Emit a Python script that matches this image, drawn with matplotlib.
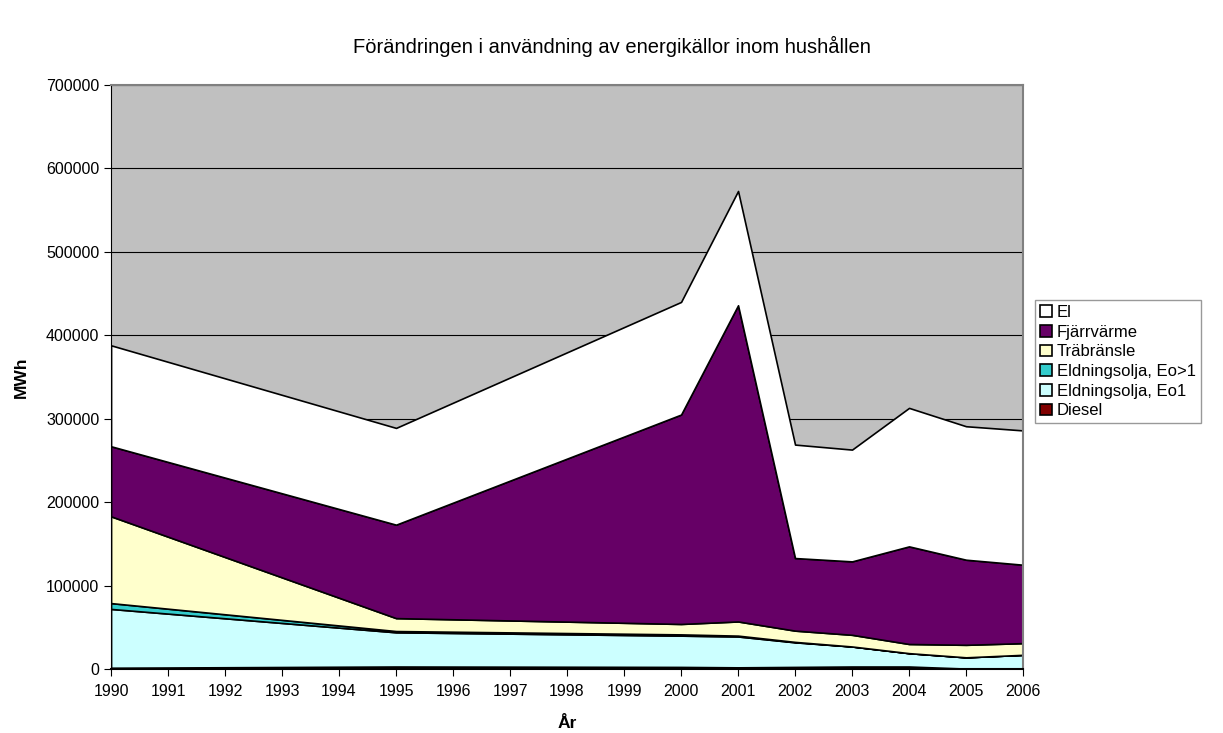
import matplotlib
matplotlib.use("Agg")
import matplotlib.pyplot as plt
import numpy as np

plt.rcParams['font.family'] = ['Liberation Sans', 'DejaVu Sans']

years = [1990, 1995, 2000, 2001, 2002, 2003, 2004, 2005, 2006]
diesel = [1500, 3000, 2500, 2000, 2500, 3000, 3000, 500, 500]
eo1 = [70500, 41000, 37500, 37000, 29500, 24000, 16000, 13500, 16500]
eo_gt1 = [7000, 1500, 1500, 1000, 500, 0, 0, 0, 0]
trabransle = [104000, 15500, 12500, 17000, 13500, 14000, 11000, 15000, 14000]
fjarrvarme = [84000, 112000, 251000, 379000, 87000, 88000, 117000, 102000, 94000]
el = [121000, 116000, 135000, 137000, 136000, 134000, 166000, 160000, 161000]

labels = ["Diesel", "Eldningsolja, Eo1", "Eldningsolja, Eo>1",
          "Träbränsle", "Fjärrvärme", "El"]
colors = ["#800000", "#CCFFFF", "#33CCCC", "#FFFFCC", "#660066", "#FFFFFF"]

fig = plt.figure(figsize=(12.23, 7.33), dpi=100)
ax = fig.add_axes([0.0908, 0.0873, 0.7457, 0.7967])
ax.set_facecolor("#C0C0C0")

ax.set_ylim(0, 700000)
ax.set_xlim(1990, 2006)
ax.set_yticks(np.arange(0, 700001, 100000))
ax.yaxis.grid(True, color="black", linewidth=0.8)
ax.set_axisbelow(True)

ax.stackplot(years, diesel, eo1, eo_gt1, trabransle, fjarrvarme, el,
             colors=colors, labels=labels, edgecolor="black",
             linewidth=1.2, zorder=2)

ax.set_xticks(range(1990, 2007))
ax.tick_params(axis="both", direction="out", length=5, labelsize=11.5, color="black")
ax.tick_params(axis="x", pad=6)
ax.spines["top"].set_color("#808080")
ax.spines["right"].set_color("#808080")
ax.spines["top"].set_linewidth(1.5)
ax.spines["right"].set_linewidth(1.5)
ax.spines["left"].set_color("black")
ax.spines["bottom"].set_color("black")
ax.spines["bottom"].set_linewidth(1.5)

ax.set_xlabel("År", fontsize=12.5, fontweight="bold", labelpad=12)
ax.set_ylabel("MWh", fontsize=12.5, fontweight="bold", labelpad=12)
fig.text(0.5, 0.936, "Förändringen i användning av energikällor inom hushållen",
         ha="center", va="center", fontsize=14.5)

handles, labs = ax.get_legend_handles_labels()
leg = fig.legend(handles[::-1], labs[::-1], loc="upper left",
                 bbox_to_anchor=(1035 / 1223, 1 - 300 / 733),
                 fontsize=12, frameon=True, fancybox=False,
                 edgecolor="#808080", handlelength=0.7, handleheight=0.7,
                 handletextpad=0.3, labelspacing=0.28, borderpad=0.3,
                 borderaxespad=0)
leg.get_frame().set_linewidth(1)

fig.savefig("out.png", dpi=100)
